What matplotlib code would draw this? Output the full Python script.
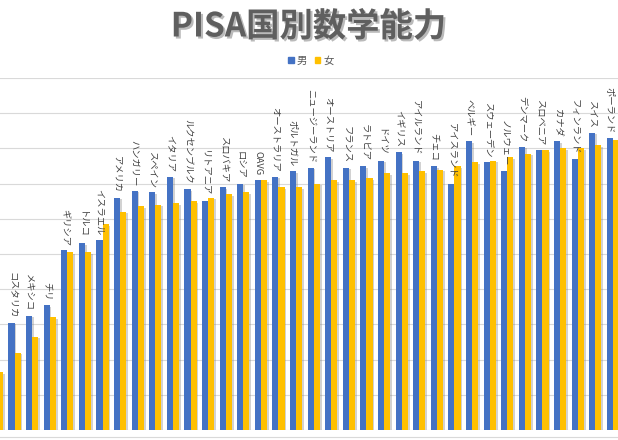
"""
PISA math scores by country and gender, recreated as a grouped bar chart.
"""

import matplotlib
matplotlib.use("Agg")
import matplotlib.pyplot as plt
import matplotlib.patheffects as pe
from matplotlib.patches import Patch
from matplotlib.lines import Line2D
import numpy as np

plt.rcParams['font.family'] = ['Noto Sans CJK JP', 'DejaVu Sans']

# Data
countries = ["コロンビア", "コスタリカ", "メキシコ", "チリ", "ギリシア", "トルコ",
             "イスラエル", "アメリカ", "ハンガリー", "スペイン", "イタリア",
             "ルクセンブルク", "リトアニア", "スロバキア", "ロシア", "OAVG",
             "オーストラリア", "ポルトガル", "ニュージーランド", "オーストリア",
             "フランス", "ラトビア", "ドイツ", "イギリス", "アイルランド", "チェコ",
             "アイスランド", "ベルギー", "スウェーデン", "ノルウェー", "デンマーク",
             "スロベニア", "カナダ", "フィンランド", "スイス", "ポーランド"]
male = [401, 411, 415, 421, 452, 456, 458, 482, 486, 485, 494, 487, 480, 488,
        490, 492, 494, 497, 499, 505, 499, 500, 503, 508, 503, 500, 490, 514,
        502, 497, 511, 509, 514, 504, 519, 516]
female = [383, 394, 403, 414, 451, 451, 467, 474, 477, 478, 479, 480, 482, 484,
          485, 492, 488, 488, 490, 492, 492, 493, 496, 496, 497, 498, 500, 502,
          503, 505, 507, 509, 510, 510, 512, 515]
series_names = ["男", "女"]
y_ticks = list(range(350, 551, 20))

BLUE = "#4472C4"
YELLOW = "#FFC000"
W, H = 618, 440

fig = plt.figure(figsize=(W / 100, H / 100), dpi=100)
ax = fig.add_axes([0, 10 / H, 1, 352 / H])

x = np.arange(len(countries))
bw = 0.35
x_min, x_max = 0.176, 35.29
shadow = [pe.SimplePatchShadow(offset=(1.2, -1.2), shadow_rgbFace="#808080", alpha=0.35),
          pe.Normal()]

ax.bar(x - bw / 2, male, width=bw, color=BLUE, path_effects=shadow, zorder=3)
ax.bar(x + bw / 2, female, width=bw, color=YELLOW, path_effects=shadow, zorder=3)

# category names above the male bars, rotated like the Excel data labels
for xi, name, v in zip(x, countries, male):
    if xi - bw / 2 < x_min:
        continue  # group cut off at the left edge, its label is out of view
    ax.annotate(name, (xi - bw / 2, v), xytext=(0, 3.5), textcoords="offset points",
                rotation=-90, ha="center", va="bottom", fontsize=6.7,
                color="#404040", zorder=4, annotation_clip=False)

ax.set_xlim(x_min, x_max)
ax.set_ylim(350, 550)
ax.set_yticks(y_ticks)
ax.set_xticks([])
ax.tick_params(left=False, labelleft=False)
ax.grid(axis="y", color="#D9D9D9", linewidth=0.8, zorder=0)
ax.set_axisbelow(True)
for s in ax.spines.values():
    s.set_visible(False)

# outer frame line below the plot
fig.add_artist(Line2D([0, 1], [1 - 437 / H, 1 - 437 / H], color="#D9D9D9", linewidth=0.8))

fig.text(308.5 / W, 1 - 27 / H, "PISA国別数学能力", ha="center", va="center",
         fontsize=24, fontweight="bold", color="#5f5f5f",
         path_effects=[pe.SimplePatchShadow(offset=(1.5, -1.5), alpha=0.3), pe.Normal()])

handles = [Patch(color=BLUE), Patch(color=YELLOW)]
fig.legend(handles, series_names, loc="center", bbox_to_anchor=(311 / W, 1 - 61 / H),
           ncol=2, frameon=False, fontsize=7.5, handlelength=0.55, handleheight=0.55,
           handletextpad=0.3, columnspacing=0.7, labelcolor="#595959")

fig.savefig("out.png", dpi=100)
